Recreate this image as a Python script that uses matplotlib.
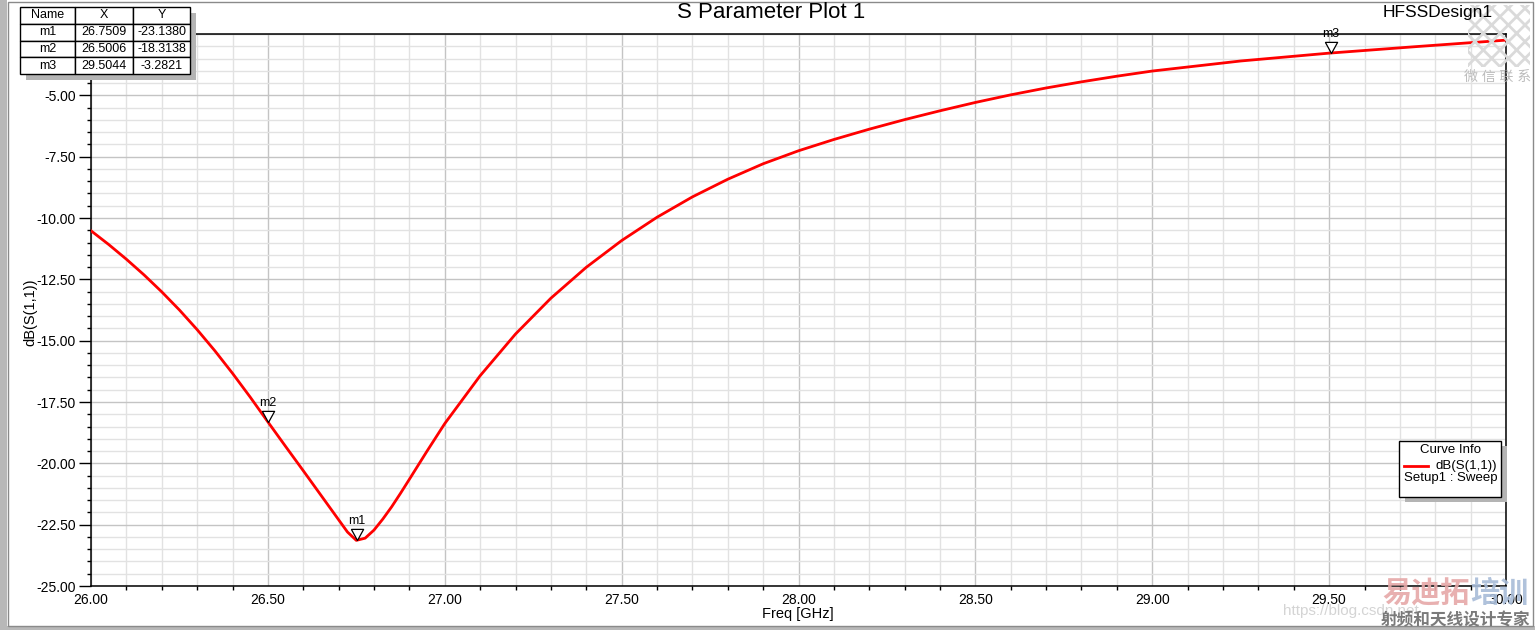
import matplotlib.pyplot as plt
from matplotlib.patches import Rectangle
from matplotlib.lines import Line2D
from matplotlib.ticker import MultipleLocator, FormatStrFormatter

plt.rcParams["font.family"] = ["Liberation Sans", "Noto Sans CJK SC", "DejaVu Sans"]
plt.rcParams["hatch.linewidth"] = 2.0

W, H = 1535, 630

# S11 curve
freq = [26.00, 26.05, 26.10, 26.15, 26.20, 26.25, 26.30, 26.35, 26.40, 26.45,
        26.50, 26.55, 26.60, 26.625, 26.65, 26.675, 26.70, 26.725, 26.75, 26.775,
        26.80, 26.825, 26.85, 26.875, 26.90, 26.95, 27.00, 27.10, 27.20, 27.30,
        27.40, 27.50, 27.60, 27.70, 27.80, 27.90, 28.00, 28.10, 28.20, 28.30,
        28.40, 28.50, 28.60, 28.70, 28.80, 28.90, 29.00, 29.25, 29.50, 29.75,
        30.00]
s11 = [-10.52, -11.08, -11.68, -12.32, -13.01, -13.75, -14.55, -15.41, -16.33, -17.30,
       -18.31, -19.31, -20.30, -20.80, -21.30, -21.80, -22.30, -22.80, -23.14, -23.05,
       -22.72, -22.27, -21.77, -21.22, -20.65, -19.50, -18.38, -16.43, -14.73, -13.27,
       -12.01, -10.92, -9.97, -9.14, -8.42, -7.79, -7.26, -6.80, -6.38, -5.99,
       -5.63, -5.29, -4.98, -4.70, -4.45, -4.22, -4.01, -3.60, -3.28, -3.01,
       -2.75]

# markers
mk_names = ["m1", "m2", "m3"]
mk_x = [26.7509, 26.5006, 29.5044]
mk_y = [-23.1380, -18.3138, -3.2821]


def fx(px):
    return px / W


def fy(py):
    return 1 - py / H


fig = plt.figure(figsize=(W / 100, H / 100), dpi=100)
fig.patch.set_facecolor("white")

# window frame
fig.patches.append(Rectangle((0, 0), fx(7), 1, transform=fig.transFigure,
                             facecolor="#b8b8b8", edgecolor="none"))
fig.patches.append(Rectangle((0, 0), 1, fy(626), transform=fig.transFigure,
                             facecolor="#b8b8b8", edgecolor="none"))
fig.patches.append(Rectangle((fx(8), fy(626)), fx(1533) - fx(8), fy(2) - fy(626),
                             transform=fig.transFigure, facecolor="none",
                             edgecolor="#8a8a8a", lw=1))

# QR watermark block sits behind everything
fig.patches.append(Rectangle((fx(1468), fy(67)), fx(62), fy(5) - fy(67),
                             transform=fig.transFigure, facecolor="none",
                             edgecolor="#dadada", hatch="xx", lw=0, zorder=0))

ax = fig.add_axes([fx(91), fy(586), fx(1506) - fx(91), fy(34) - fy(586)])
ax.patch.set_alpha(0)
ax.set_xlim(26, 30)
ax.set_ylim(-25, -2.5)
ax.xaxis.set_major_locator(MultipleLocator(0.5))
ax.xaxis.set_minor_locator(MultipleLocator(0.1))
ax.yaxis.set_major_locator(MultipleLocator(2.5))
ax.yaxis.set_minor_locator(MultipleLocator(0.5))
ax.xaxis.set_major_formatter(FormatStrFormatter("%.2f"))
ax.yaxis.set_major_formatter(FormatStrFormatter("%.2f"))
ax.grid(which="major", color="#c4c4c4", lw=1)
ax.grid(which="minor", color="#e2e2e2", lw=1)
ax.set_axisbelow(True)
for sp in ax.spines.values():
    sp.set_color("black")
    sp.set_linewidth(1.1)
ax.tick_params(axis="x", which="major", length=0, pad=5, labelsize=10)
ax.tick_params(axis="x", which="minor", length=3, width=1, direction="out")
ax.tick_params(axis="y", which="major", length=9, width=1, pad=2, labelsize=10)
ax.tick_params(axis="y", which="minor", length=3, width=1)

ax.plot(freq, s11, color="#ff0000", lw=2, zorder=3, solid_joinstyle="round")

tri = [(-0.55, 1.0), (0.55, 1.0), (0.0, 0.0), (-0.55, 1.0)]
for name, x, y in zip(mk_names, mk_x, mk_y):
    ax.plot([x], [y], marker=tri, ms=16, mfc="white", mec="black", mew=0.9,
            ls="none", zorder=4, clip_on=False)
    ax.annotate(name, (x, y), xytext=(0, 9.5), textcoords="offset points",
                ha="center", va="bottom", fontsize=9, zorder=5,
                annotation_clip=False)

fig.text(fx(798), fy(614), "Freq [GHz]", ha="center", va="center", fontsize=10.5)
fig.text(fx(30), fy(312), "dB(S(1,1))", ha="center", va="center",
         rotation=90, fontsize=10.5)
fig.text(fx(771), fy(13), "S Parameter Plot 1", ha="center", va="center", fontsize=16)
fig.text(fx(1493), fy(13), "HFSSDesign1", ha="right", va="center", fontsize=12.5)

# marker table with shadow
tl, tr, tt, tb = 20, 190, 7, 74
fig.patches.append(Rectangle((fx(tl + 6), fy(tb + 6)), fx(tr) - fx(tl), fy(tt) - fy(tb),
                             transform=fig.transFigure, facecolor="#b4b4b4",
                             edgecolor="none", zorder=5))
tax = fig.add_axes([fx(tl), fy(tb), fx(tr) - fx(tl), fy(tt) - fy(tb)], zorder=10)
tax.axis("off")
rows = [["Name", "X", "Y"]] + [[n, f"{x:.4f}", f"{y:.4f}"] for n, x, y in zip(mk_names, mk_x, mk_y)]
tbl = tax.table(cellText=rows, bbox=[0, 0, 1, 1], cellLoc="center",
                colWidths=[55, 58, 57])
tbl.auto_set_font_size(False)
for cell in tbl.get_celld().values():
    cell.set_fontsize(9)
    cell.set_edgecolor("black")
    cell.set_linewidth(1)
    cell.set_facecolor("white")

# curve info box with shadow
bl, br, bt, bb = 1399, 1501, 441, 497
fig.patches.append(Rectangle((fx(bl + 6), fy(bb + 5)), fx(br) - fx(bl), fy(bt) - fy(bb),
                             transform=fig.transFigure, facecolor="#b4b4b4",
                             edgecolor="none", zorder=5))
fig.patches.append(Rectangle((fx(bl), fy(bb)), fx(br) - fx(bl), fy(bt) - fy(bb),
                             transform=fig.transFigure, facecolor="white",
                             edgecolor="black", lw=1, zorder=6))
fig.text(fx(1450), fy(450), "Curve Info", ha="center", va="center", fontsize=9.5, zorder=7)
fig.lines.append(Line2D([fx(1404), fx(1428)], [fy(466), fy(466)], transform=fig.transFigure,
                        color="#ff0000", lw=2, zorder=7))
fig.text(fx(1497), fy(466), "dB(S(1,1))", ha="right", va="center", fontsize=9.5, zorder=7)
fig.text(fx(1497), fy(478), "Setup1 : Sweep", ha="right", va="center", fontsize=9.5, zorder=7)

# watermark texts
fig.text(fx(1498), fy(77), "微 信 联 系", ha="center", va="center", fontsize=10,
         color="#bcbcbc", zorder=8)
fig.text(fx(1283), fy(611), "https://blog.csdn.net", ha="left", va="center",
         fontsize=11, color="#d4d4d4", zorder=8)
fig.text(fx(1382), fy(594), "易迪拓", ha="left", va="center", fontsize=21,
         fontweight="bold", color="#e6a8a8", alpha=0.9, zorder=8)
fig.text(fx(1470), fy(594), "培训", ha="left", va="center", fontsize=21,
         fontweight="bold", color="#a8bcd8", alpha=0.9, zorder=8)
fig.text(fx(1456), fy(620), "射频和天线设计专家", ha="center", va="center", fontsize=12,
         fontweight="bold", color="#7a7a7a", zorder=8)

fig.savefig("out.png", dpi=100)
